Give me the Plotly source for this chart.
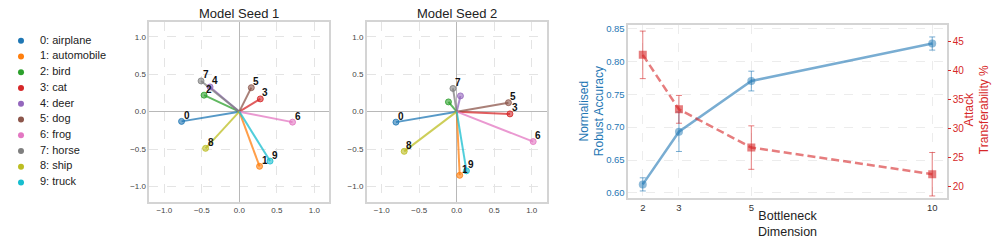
import math
import plotly.graph_objects as go

# ---------------- data ----------------
classes = ["airplane", "automobile", "bird", "cat", "deer",
           "dog", "frog", "horse", "ship", "truck"]
colors = ["#1f77b4", "#ff7f0e", "#2ca02c", "#d62728", "#9467bd",
          "#8c564b", "#e377c2", "#7f7f7f", "#bcbd22", "#17becf"]

seed1_x = [-0.77, 0.27, -0.47, 0.28, -0.39, 0.16, 0.71, -0.51, -0.45, 0.41]
seed1_y = [-0.13, -0.73, 0.22, 0.17, 0.33, 0.32, -0.14, 0.41, -0.49, -0.66]
seed2_x = [-0.81, 0.04, -0.11, 0.71, 0.05, 0.69, 1.02, -0.05, -0.70, 0.13]
seed2_y = [-0.14, -0.85, 0.13, -0.03, 0.21, 0.12, -0.40, 0.31, -0.53, -0.79]

dims = [2, 3, 5, 10]
acc = [0.613, 0.693, 0.770, 0.827]
acc_err = [0.010, 0.030, 0.015, 0.010]
transfer = [42.7, 33.3, 26.7, 22.1]
transfer_err = [4.1, 2.4, 3.75, 3.75]

panel_ticks = [-1.0, -0.5, 0.0, 0.5, 1.0]
acc_ticks = [0.60, 0.65, 0.70, 0.75, 0.80, 0.85]
transfer_ticks = [20, 25, 30, 35, 40, 45]

# ---------------- helpers ----------------
W, H = 996, 244
FONT = "Liberation Sans, Arial, Helvetica, sans-serif"


def rgba(hex_color, a):
    h = hex_color.lstrip("#")
    r, g, b = int(h[0:2], 16), int(h[2:4], 16), int(h[4:6], 16)
    return f"rgba({r},{g},{b},{a})"


def xdom(x0, x1):
    return [x0 / W, x1 / W]


def ydom(top, bottom):
    return [(H - bottom) / H, (H - top) / H]


def px_x(x):
    return x / W


def px_y(y):
    return 1 - y / H


fig = go.Figure()

panels = [("x", "y", seed1_x, seed1_y, "Model Seed 1", xdom(149.3, 329.3)),
          ("x2", "y2", seed2_x, seed2_y, "Model Seed 2", xdom(366.7, 546.7))]
panel_ydom = ydom(19, 201)

annotations = []
for xa, ya, px, py, title, dom in panels:
    for i in range(len(classes)):
        fig.add_trace(go.Scatter(
            x=[0, px[i]], y=[0, py[i]], xaxis=xa, yaxis=ya, mode="lines",
            line=dict(color=rgba(colors[i], 0.75), width=2),
            showlegend=False, hoverinfo="skip"))
    fig.add_trace(go.Scatter(
        x=px, y=py, xaxis=xa, yaxis=ya, mode="markers",
        marker=dict(size=6, color=[rgba(c, 0.6) for c in colors],
                    line=dict(width=1, color=[rgba(c, 0.8) for c in colors])),
        showlegend=False, text=classes, hoverinfo="text"))
    for i in range(len(classes)):
        if math.hypot(px[i], py[i]) > 0.25:
            annotations.append(dict(
                x=px[i], y=py[i], xref=xa, yref=ya, text=f"<b>{i}</b>",
                showarrow=False, xanchor="center", yanchor="middle",
                xshift=5, yshift=6, font=dict(size=10, color="#111", family=FONT)))
    annotations.append(dict(
        x=(dom[0] + dom[1]) / 2, y=px_y(11), xref="paper", yref="paper",
        text=title, showarrow=False, xanchor="center", yanchor="middle",
        font=dict(size=13, color="#222", family=FONT)))

# legend drawn as markers + text on a hidden axis
fig.add_trace(go.Scatter(
    x=[0] * len(classes), y=list(range(len(classes))), xaxis="x5", yaxis="y5",
    mode="markers", marker=dict(size=6, color=colors),
    showlegend=False, hoverinfo="skip"))
fig.add_trace(go.Scatter(
    x=[1] * len(classes), y=list(range(len(classes))), xaxis="x5", yaxis="y5",
    mode="text", text=[f"{i}: {c}" for i, c in enumerate(classes)],
    textposition="middle right",
    textfont=dict(size=11, color="#222", family=FONT),
    showlegend=False, hoverinfo="skip"))

# right panel
blue = "#1f77b4"
red = "#d62728"
fig.add_trace(go.Scatter(
    x=dims, y=acc, xaxis="x3", yaxis="y3", mode="lines+markers",
    line=dict(color=rgba(blue, 0.6), width=2.5),
    marker=dict(symbol="circle", size=8, color=rgba(blue, 0.5)),
    error_y=dict(type="data", array=acc_err, color=rgba(blue, 0.6),
                 thickness=1, width=3),
    showlegend=False))
fig.add_trace(go.Scatter(
    x=dims, y=transfer, xaxis="x3", yaxis="y4", mode="lines+markers",
    line=dict(color=rgba(red, 0.6), width=2.5, dash="8px,4px"),
    marker=dict(symbol="square", size=8, color=rgba(red, 0.6)),
    error_y=dict(type="data", array=transfer_err, color=rgba(red, 0.6),
                 thickness=1, width=3),
    showlegend=False))

# axis titles of the right panel
annotations.append(dict(
    x=px_x(787), y=px_y(224), xref="paper", yref="paper",
    text="Bottleneck<br>Dimension", showarrow=False,
    xanchor="center", yanchor="middle",
    font=dict(size=12.5, color="#222", family=FONT)))
annotations.append(dict(
    x=px_x(591.5), y=px_y(110), xref="paper", yref="paper",
    text="Normalised<br>Robust Accuracy", showarrow=False, textangle=-90,
    xanchor="center", yanchor="middle",
    font=dict(size=12, color=blue, family=FONT)))
annotations.append(dict(
    x=px_x(976.5), y=px_y(108), xref="paper", yref="paper",
    text="Attack<br>Transferability %", showarrow=False, textangle=-90,
    xanchor="center", yanchor="middle",
    font=dict(size=12, color=red, family=FONT)))

grid = "#e4e4e4"
frame = "#d4d4d4"
tick_font = dict(size=8, color="#444", family=FONT)


def panel_axis(dom, anchor):
    return dict(domain=dom, anchor=anchor, range=[-1.2, 1.2],
                tickvals=panel_ticks, tickformat=".1f", ticks="",
                showgrid=True, gridcolor=grid, griddash="dash", gridwidth=1,
                zeroline=True, zerolinecolor="#b8b8b8", zerolinewidth=1,
                showline=True, mirror=True, linecolor=frame, linewidth=1.5,
                tickfont=tick_font, fixedrange=True)


rx = xdom(628.3, 946.7)
ry = ydom(22.7, 197.3)

fig.update_layout(
    width=W, height=H, margin=dict(l=0, r=0, t=0, b=0),
    paper_bgcolor="white", plot_bgcolor="white",
    font=dict(family=FONT),
    xaxis=panel_axis(panels[0][5], "y"),
    yaxis=panel_axis(panel_ydom, "x"),
    xaxis2=panel_axis(panels[1][5], "y2"),
    yaxis2=panel_axis(panel_ydom, "x2"),
    xaxis3=dict(domain=rx, anchor="y3", range=[1.6, 10.4], tickvals=dims,
                ticks="", showgrid=True, gridcolor="#ececec", griddash="dash",
                zeroline=False, showline=True, mirror=True, linecolor=frame,
                linewidth=1.5, tickfont=dict(size=9.5, color="#333", family=FONT)),
    yaxis3=dict(domain=ry, anchor="x3", range=[0.5925, 0.8545],
                tickvals=acc_ticks, tickformat=".2f", ticks="",
                showgrid=True, gridcolor="#ececec", griddash="dash",
                zeroline=False, showline=True, mirror=True, linecolor=frame,
                linewidth=1.5, tickfont=dict(size=9.5, color=blue, family=FONT)),
    yaxis4=dict(domain=ry, anchor="x3", overlaying="y3", side="right",
                range=[18.02, 47.78], tickvals=transfer_ticks,
                ticks="outside", ticklen=3, tickcolor=red, tickwidth=1,
                showgrid=False, zeroline=False, showline=False,
                tickfont=dict(size=10, color=red, family=FONT)),
    xaxis5=dict(domain=xdom(0, 129.5), anchor="y5",
                range=[-21 / 19, (129.5 - 21) / 19], visible=False),
    yaxis5=dict(domain=panel_ydom, anchor="x5",
                range=[(201 - 38.3) / 15.93, (19 - 38.3) / 15.93], visible=False),
    annotations=annotations,
)

fig.write_html("out.html",
               config={"displayModeBar": False},
               post_script="document.body.style.margin='0';"
                           "document.body.style.overflow='hidden';")
